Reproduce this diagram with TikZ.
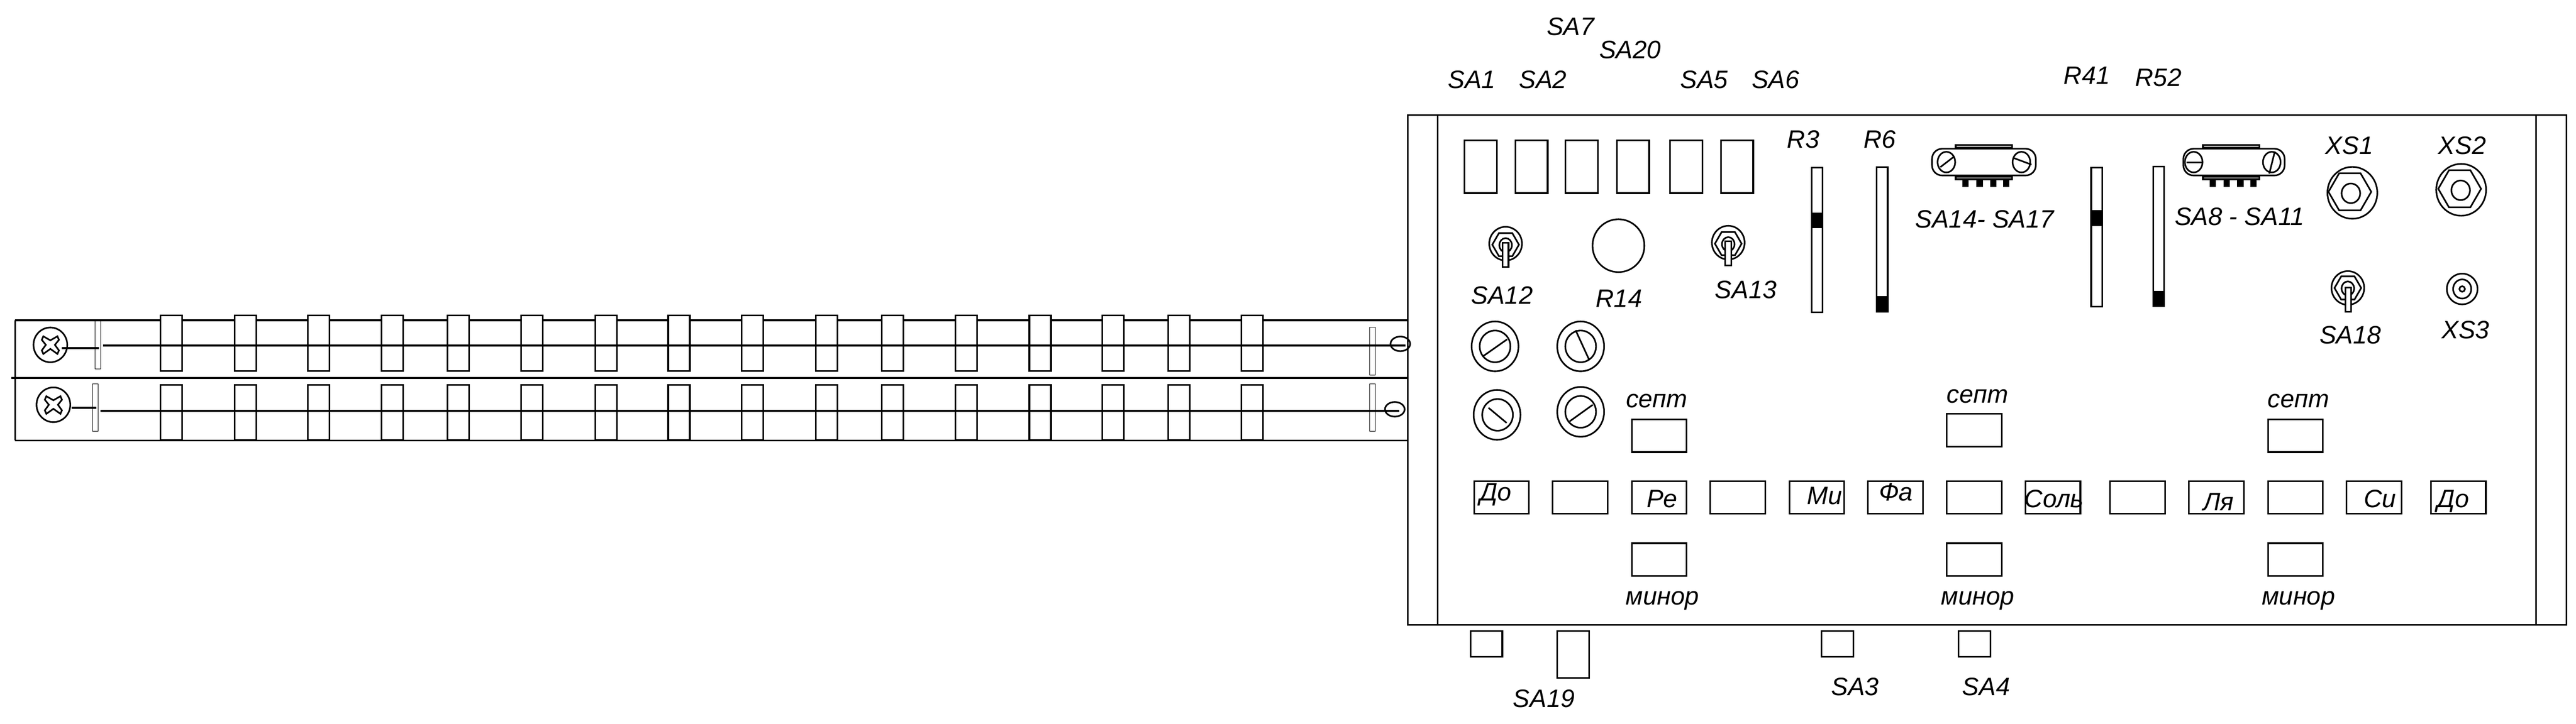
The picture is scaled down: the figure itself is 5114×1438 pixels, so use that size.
\documentclass[tikz,border=0pt]{standalone}
\usepackage{fontspec}
\setmainfont{Liberation Sans}
\usepackage{tikz}
\usetikzlibrary{shapes}

\begin{document}
\begin{tikzpicture}[x=0.5pt,y=-0.5pt,line width=1.6pt]
	\tikzstyle{Rail}	= [line width=2pt]
	\tikzstyle{Thin}	= [line width=0.5pt]
	\tikzstyle{Box}		= [rectangle, draw, fill=white, inner sep=0pt]
	\tikzstyle{Oval}	= [ellipse, draw, inner sep=0pt]
	\tikzstyle{Hex}		= [regular polygon, regular polygon sides=6, draw, inner sep=0pt]
	\tikzstyle{Solid}	= [rectangle, fill=black, inner sep=0pt]
	\tikzstyle{Slider}	= [Box, minimum width=21.5pt, minimum height=55pt]
	\tikzstyle{Guide}	= [rectangle, draw, Thin, minimum width=5.5pt, minimum height=47.5pt, inner sep=0pt]
	\tikzstyle{Knob}	= [Oval, minimum width=46.5pt, minimum height=49.5pt]
	\tikzstyle{KnobIn}	= [Oval, minimum width=30.5pt, minimum height=31.5pt]
	\tikzstyle{Head}	= [Oval, minimum width=33.5pt, minimum height=34.5pt]
	\tikzstyle{Ring}	= [Oval, minimum width=19.5pt, minimum height=14.5pt]
	\tikzstyle{Key}		= [Box, fill=none, minimum width=54.5pt, minimum height=32.5pt]
	\tikzstyle{Tall}	= [Box, minimum width=32pt, minimum height=52.5pt]
	\tikzstyle{Small}	= [Box, minimum width=31.5pt, minimum height=25.5pt]
	\tikzstyle{Fader}	= [Box, minimum width=11pt]
	\tikzstyle{Cursor}	= [Solid, minimum width=12.5pt]
	\tikzstyle{Outer}	= [Oval, minimum width=32.5pt, minimum height=33.5pt]
	\tikzstyle{Nut}		= [Hex, minimum size=26.5pt]
	\tikzstyle{Inner}	= [Oval, minimum width=12.5pt, minimum height=14pt]
	\tikzstyle{Lever}	= [Box, minimum width=5.75pt, minimum height=24pt]
	\tikzstyle{Jack}	= [Oval, minimum width=49.5pt, minimum height=51.5pt]
	\tikzstyle{JackNut}	= [Hex, minimum size=42.5pt]
	\tikzstyle{JackIn}	= [Oval, minimum width=18.5pt, minimum height=19.5pt]
	\tikzstyle{Body}	= [Box, rounded corners=10pt, minimum height=26.5pt]
	\tikzstyle{Tab}		= [Box, minimum width=56pt, minimum height=2.5pt]
	\tikzstyle{Pin}		= [Solid, minimum width=6.25pt, minimum height=7pt]
	\tikzstyle{Bolt}	= [Oval, minimum width=17.5pt, minimum height=20.5pt]
	\tikzstyle{Lbl}		= [anchor=base, inner sep=0pt, font=\itshape\fontsize{25}{30}\selectfont]

	\useasboundingbox (0,0) rectangle (5114,1438);

	\coordinate (r1a) at (30,636);
	\coordinate (r1b) at (2795,636);
	\coordinate (r2a) at (23,751);
	\coordinate (r2b) at (2795,751);
	\coordinate (r3a) at (30,875);
	\coordinate (r3b) at (2795,875);
	\draw [Rail] (r1a) to (r1b);
	\draw [Rail] (r2a) to (r2b);
	\draw [Rail] (r3a) to (r3b);
	\draw [-] (r1a) to (r3a);

	\node (sa1) at (340,681.5) [Slider] {};
	\node (sa2) at (487,681.5) [Slider] {};
	\node (sa3) at (633,681.5) [Slider] {};
	\node (sa4) at (779,681.5) [Slider] {};
	\node (sa5) at (910,681.5) [Slider] {};
	\node (sa6) at (1056,681.5) [Slider] {};
	\node (sa7) at (1203,681.5) [Slider] {};
	\node (sa8) at (1348,681.5) [Slider] {};
	\node (sa9) at (1494,681.5) [Slider] {};
	\node (sa10) at (1641,681.5) [Slider] {};
	\node (sa11) at (1772,681.5) [Slider] {};
	\node (sa12) at (1918,681.5) [Slider] {};
	\node (sa13) at (2065,681.5) [Slider] {};
	\node (sa14) at (2210,681.5) [Slider] {};
	\node (sa15) at (2341,681.5) [Slider] {};
	\node (sa16) at (2486,681.5) [Slider] {};

	\node (sb1) at (340,819.5) [Slider] {};
	\node (sb2) at (487,819.5) [Slider] {};
	\node (sb3) at (633,819.5) [Slider] {};
	\node (sb4) at (779,819.5) [Slider] {};
	\node (sb5) at (910,819.5) [Slider] {};
	\node (sb6) at (1056,819.5) [Slider] {};
	\node (sb7) at (1203,819.5) [Slider] {};
	\node (sb8) at (1348,819.5) [Slider] {};
	\node (sb9) at (1494,819.5) [Slider] {};
	\node (sb10) at (1641,819.5) [Slider] {};
	\node (sb11) at (1772,819.5) [Slider] {};
	\node (sb12) at (1918,819.5) [Slider] {};
	\node (sb13) at (2065,819.5) [Slider] {};
	\node (sb14) at (2210,819.5) [Slider] {};
	\node (sb15) at (2341,819.5) [Slider] {};
	\node (sb16) at (2486,819.5) [Slider] {};

	\node (ga1) at (194.5,685.5) [Guide] {};
	\node (ga2) at (2725,697.5) [Guide] {};
	\node (gb1) at (189.5,809.5) [Guide] {};
	\node (gb2) at (2725,809.5) [Guide] {};

	\node (hd1) at (100,685) [Head] {};
	\node (hd2) at (106,804) [Head] {};
	\draw [shift={(100,685)}] (-14,-17) -- (0,-9) -- (14,-17) -- (17,-10) -- (9,0) -- (17,11) -- (14,18) -- (0,8) -- (-14,18) -- (-17,11) -- (-9,0) -- (-17,-10) -- cycle;
	\draw [shift={(106,804)}] (-14,-17) -- (0,-9) -- (14,-17) -- (17,-10) -- (9,0) -- (17,11) -- (14,18) -- (0,8) -- (-14,18) -- (-17,11) -- (-9,0) -- (-17,-10) -- cycle;

	\coordinate (sh1a) at (123,691);
	\coordinate (sh1b) at (196,691);
	\coordinate (sh2a) at (142,810);
	\coordinate (sh2b) at (191,810);
	\coordinate (ln1a) at (205,686);
	\coordinate (ln1b) at (2790,686);
	\coordinate (ln2a) at (199,816);
	\coordinate (ln2b) at (2778,816);
	\draw [Rail] (sh1a) to (sh1b);
	\draw [Rail] (sh2a) to (sh2b);
	\draw [Rail] (ln1a) to (ln1b);
	\draw [Rail] (ln2a) to (ln2b);

	\node (rg1) at (2780,683) [Ring] {};
	\node (rg2) at (2769,813) [Ring] {};

	\node (panel) at (3945,735) [rectangle, draw, minimum width=1150pt, minimum height=506pt, inner sep=0pt] {};
	\coordinate (pa1) at (2854,229);
	\coordinate (pa2) at (2854,1241);
	\coordinate (pb1) at (5035,229);
	\coordinate (pb2) at (5035,1241);
	\draw [-] (pa1) to (pa2);
	\draw [-] (pb1) to (pb2);

	\node (kn1) at (2968,688) [Knob] {};
	\node (kn1i) at (2968,688) [KnobIn] {};
	\node (kn2) at (3138,688) [Knob] {};
	\node (kn2i) at (3138,688) [KnobIn] {};
	\node (kn3) at (2972,824) [Knob] {};
	\node (kn3i) at (2973,824) [KnobIn] {};
	\node (kn4) at (3138,818) [Knob] {};
	\node (kn4i) at (3138,818) [KnobIn] {};
	\draw (2945,707) -- (2992,674);
	\draw (3128,656) -- (3155,715);
	\draw (2955,810) -- (2991,840);
	\draw (3116,837) -- (3162,804);

	\node (top1) at (2939.5,331) [Tall] {};
	\node (top2) at (3040.5,331) [Tall] {};
	\node (top3) at (3140,331) [Tall] {};
	\node (top4) at (3242,331) [Tall] {};
	\node (top5) at (3347.5,331) [Tall] {};
	\node (top6) at (3448.5,331) [Tall] {};

	\node (out12) at (2989,484) [Outer] {};
	\node (nut12) at (2989,486) [Nut] {};
	\node (in12) at (2989,487) [Inner] {};
	\node (lev12) at (2989,506) [Lever] {};
	\node (out13) at (3431,482) [Outer] {};
	\node (nut13) at (3431,484) [Nut] {};
	\node (in13) at (3431,485) [Inner] {};
	\node (lev13) at (3431,503) [Lever] {};
	\node (out18) at (4661,572) [Outer] {};
	\node (nut18) at (4661,572) [Nut] {};
	\node (in18) at (4661,573) [Inner] {};
	\node (lev18) at (4662,595) [Lever] {};

	\node (r14) at (3213,488) [Oval, minimum width=51.5pt, minimum height=52.5pt] {};

	\node (r3) at (3607.5,476.5) [Fader, minimum height=144pt] {};
	\node (r3c) at (3607.5,437.5) [Cursor, minimum height=15.5pt] {};
	\node (r6) at (3736.5,475.5) [Fader, minimum height=144pt] {};
	\node (r6c) at (3736.5,604.5) [Cursor, minimum height=16.5pt] {};
	\node (r41) at (4162.5,471) [Fader, minimum height=138.5pt] {};
	\node (r41c) at (4162.5,433) [Cursor, minimum height=16pt] {};
	\node (r52) at (4285.5,469) [Fader, minimum height=138.5pt] {};
	\node (r52c) at (4285.5,593.5) [Cursor, minimum height=15.5pt] {};

	\node (tab1) at (3938.5,290.5) [Tab] {};
	\node (tab2) at (3938.5,353.5) [Tab] {};
	\node (body1) at (3938.5,322) [Body, minimum width=103pt] {};
	\node (bl1) at (3864,322) [Bolt] {};
	\node (bl2) at (4013,322) [Bolt] {};
	\node (pin1) at (3902,364) [Pin] {};
	\node (pin2) at (3930,364) [Pin] {};
	\node (pin3) at (3957,364) [Pin] {};
	\node (pin4) at (3983,364) [Pin] {};
	\draw (3852,332) -- (3878,312);
	\draw (3998,314) -- (4033,327);

	\node (tab3) at (4429.5,290.5) [Tab] {};
	\node (tab4) at (4429.5,353.5) [Tab] {};
	\node (body2) at (4435,322) [Body, minimum width=100.5pt] {};
	\node (bl3) at (4355,322) [Bolt] {};
	\node (bl4) at (4510,322) [Bolt] {};
	\node (pin5) at (4392.5,364) [Pin] {};
	\node (pin6) at (4420.5,364) [Pin] {};
	\node (pin7) at (4447.5,364) [Pin] {};
	\node (pin8) at (4473.5,364) [Pin] {};
	\draw (4341,323) -- (4372,323);
	\draw (4505,345) -- (4516,301);

	\node (xs1) at (4670,383) [Jack] {};
	\node (xs1n) at (4665,381) [JackNut] {};
	\node (xs1i) at (4667,384) [JackIn] {};
	\node (xs2) at (4886,377) [Jack] {};
	\node (xs2n) at (4883,375) [JackNut] {};
	\node (xs2i) at (4885,378) [JackIn] {};
	\node (xs3) at (4888,574) [Oval, minimum width=30.5pt, minimum height=30.5pt] {};
	\node (xs3m) at (4888,574) [Oval, minimum width=18pt, minimum height=19pt] {};
	\node (xs3i) at (4888,574) [Oval, minimum width=5.5pt, minimum height=5.5pt] {};

	\node (k1) at (2981,988) [Key] {};
	\node (k2) at (3137,988) [Key] {};
	\node (k3) at (3294,988) [Key] {};
	\node (k4) at (3450,988) [Key] {};
	\node (k5) at (3607,988) [Key] {};
	\node (k6) at (3763,988) [Key] {};
	\node (k7) at (3919.5,988) [Key] {};
	\node (k8) at (4075.5,988) [Key] {};
	\node (k9) at (4243.5,988) [Key] {};
	\node (k10) at (4400,988) [Key] {};
	\node (k11) at (4557,988) [Key] {};
	\node (k12) at (4713,988) [Key] {};
	\node (k13) at (4880.5,988) [Key] {};

	\node (s1) at (3294,865.5) [Key] {};
	\node (s2) at (3919.5,854.5) [Key] {};
	\node (s3) at (4557,865.5) [Key] {};
	\node (m1) at (3294,1111.5) [Key] {};
	\node (m2) at (3919.5,1111.5) [Key] {};
	\node (m3) at (4557,1111.5) [Key] {};

	\node (b1) at (2951,1279) [Small] {};
	\node (b2) at (3123,1300) [Small, minimum height=46.5pt] {};
	\node (b3) at (3648,1279) [Small] {};
	\node (b4) at (3920,1279) [Small] {};

	\node (tSA7) at (3118,70) [Lbl] {SA7};
	\node (tSA20) at (3236,116) [Lbl] {SA20};
	\node (tSA1) at (2922,175) [Lbl] {SA1};
	\node (tSA2) at (3063,175) [Lbl] {SA2};
	\node (tSA5) at (3383,175) [Lbl] {SA5};
	\node (tSA6) at (3525,175) [Lbl] {SA6};
	\node (tR3) at (3580,294) [Lbl] {R3};
	\node (tR6) at (3732,294) [Lbl] {R6};
	\node (tR41) at (4143,167) [Lbl] {R41};
	\node (tR52) at (4285,171) [Lbl] {R52};
	\node (tXS1) at (4664,306) [Lbl] {XS1};
	\node (tXS2) at (4888,306) [Lbl] {XS2};
	\node (tSA14) at (3940,453) [Lbl] {SA14- SA17};
	\node (tSA8) at (4446,447) [Lbl] {SA8 - SA11};
	\node (tSA12) at (2982,604) [Lbl] {SA12};
	\node (tR14) at (3214,610) [Lbl] {R14};
	\node (tSA13) at (3466,593) [Lbl] {SA13};
	\node (tSA18) at (4666,683) [Lbl] {SA18};
	\node (tXS3) at (4895,673) [Lbl] {XS3};
	\node (tSA19) at (3065,1405) [Lbl] {SA19};
	\node (tSA3) at (3683,1381) [Lbl] {SA3};
	\node (tSA4) at (3943,1381) [Lbl] {SA4};

	\node (ts1) at (3289,810) [Lbl] {септ};
	\node (ts2) at (3926,800) [Lbl] {септ};
	\node (ts3) at (4563,810) [Lbl] {септ};
	\node (tm1) at (3300,1201) [Lbl] {минор};
	\node (tm2) at (3926,1201) [Lbl] {минор};
	\node (tm3) at (4563,1201) [Lbl] {минор};

	\node (tk1) at (2969,995) [Lbl] {До};
	\node (tk3) at (3300,1008) [Lbl] {Ре};
	\node (tk5) at (3622,1002) [Lbl] {Ми};
	\node (tk6) at (3764,995) [Lbl] {Фа};
	\node (tk8) at (4078,1008) [Lbl] {Соль};
	\node (tk10) at (4404,1014) [Lbl] {Ля};
	\node (tk12) at (4725,1008) [Lbl] {Си};
	\node (tk13) at (4870,1008) [Lbl] {До};
\end{tikzpicture}
\end{document}
